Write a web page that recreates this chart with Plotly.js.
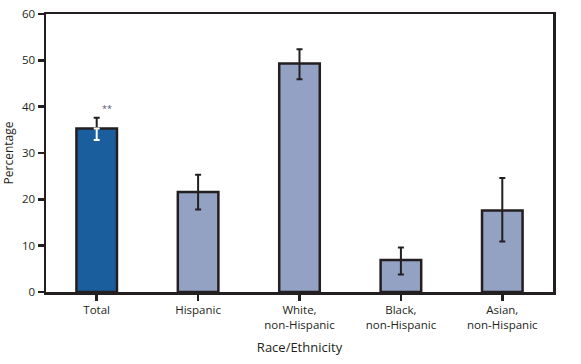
<!DOCTYPE html>
<html><head><meta charset="utf-8">
<script src="https://cdn.plot.ly/plotly-3.0.1.min.js"></script>
<style>body{margin:0;background:#fff}#chart{width:581px;height:364px}</style>
</head><body><div id="chart"></div>
<script>
const categories = ["Total", "Hispanic", "White,<br>non-Hispanic", "Black,<br>non-Hispanic", "Asian,<br>non-Hispanic"];
const values = [35.3, 21.6, 49.3, 6.9, 17.6];
const upperCI = [37.6, 25.3, 52.4, 9.6, 24.6];
const lowerCI = [32.8, 17.8, 45.9, 3.8, 10.9];
const barColors = ["#1a5e9e", "#93a1c3", "#93a1c3", "#93a1c3", "#93a1c3"];
const yTicks = [0, 10, 20, 30, 40, 50, 60];

const dark = "#231f20";
const plus = values.map((v, i) => upperCI[i] - v);
const minus = values.map((v, i) => v - lowerCI[i]);

const bars = {
  type: "bar", x: categories, y: values, width: 0.4,
  marker: {color: barColors, line: {color: dark, width: 2.5}},
  hoverinfo: "none", showlegend: false
};
const errOthers = {
  type: "scatter", mode: "markers", x: categories.slice(1), y: values.slice(1),
  marker: {size: 0.1, color: "rgba(0,0,0,0)"},
  error_y: {type: "data", symmetric: false, array: plus.slice(1), arrayminus: minus.slice(1),
            color: dark, thickness: 2, width: 3},
  showlegend: false, hoverinfo: "none"
};
const errTotalUp = {
  type: "scatter", mode: "markers", x: [categories[0]], y: [values[0]],
  marker: {size: 0.1, color: "rgba(0,0,0,0)"},
  error_y: {type: "data", symmetric: false, array: [plus[0]], arrayminus: [0],
            color: dark, thickness: 2, width: 3},
  showlegend: false, hoverinfo: "none"
};
const errTotalDown = {
  type: "scatter", mode: "markers", x: [categories[0]], y: [values[0]],
  marker: {size: 0.1, color: "rgba(0,0,0,0)"},
  error_y: {type: "data", symmetric: false, array: [0], arrayminus: [minus[0]],
            color: "#ffffff", thickness: 2, width: 3},
  showlegend: false, hoverinfo: "none"
};

const layout = {
  width: 581, height: 364,
  margin: {l: 46, r: 28, t: 14, b: 72},
  paper_bgcolor: "#fff", plot_bgcolor: "#fff",
  font: {family: "Open Sans, sans-serif", color: dark, size: 11},
  xaxis: {
    type: "category", showline: true, linecolor: dark, linewidth: 2.5, mirror: true,
    ticks: "outside", ticklen: 6, tickwidth: 2.5, tickcolor: dark,
    tickfont: {size: 11.5, family: "Open Sans, sans-serif"},
    title: {text: "Race/Ethnicity", font: {size: 13}, standoff: 12},
    showgrid: false, zeroline: false
  },
  yaxis: {
    range: [0, 60], tickvals: yTicks, showline: true, linecolor: dark, linewidth: 2.5, mirror: true,
    ticks: "outside", ticklen: 6, tickwidth: 2.5, tickcolor: dark,
    tickfont: {size: 11.5}, showgrid: false, zeroline: false,
    title: {text: "Percentage", font: {size: 12}, standoff: 6}
  },
  annotations: [{
    x: categories[0], y: 39.6, text: "**", showarrow: false, xshift: 10,
    font: {size: 9, color: "#555a70"}
  }],
  bargap: 0.6
};
Plotly.newPlot("chart", [bars, errOthers, errTotalUp, errTotalDown], layout, {displayModeBar: false, staticPlot: true});
</script></body></html>
